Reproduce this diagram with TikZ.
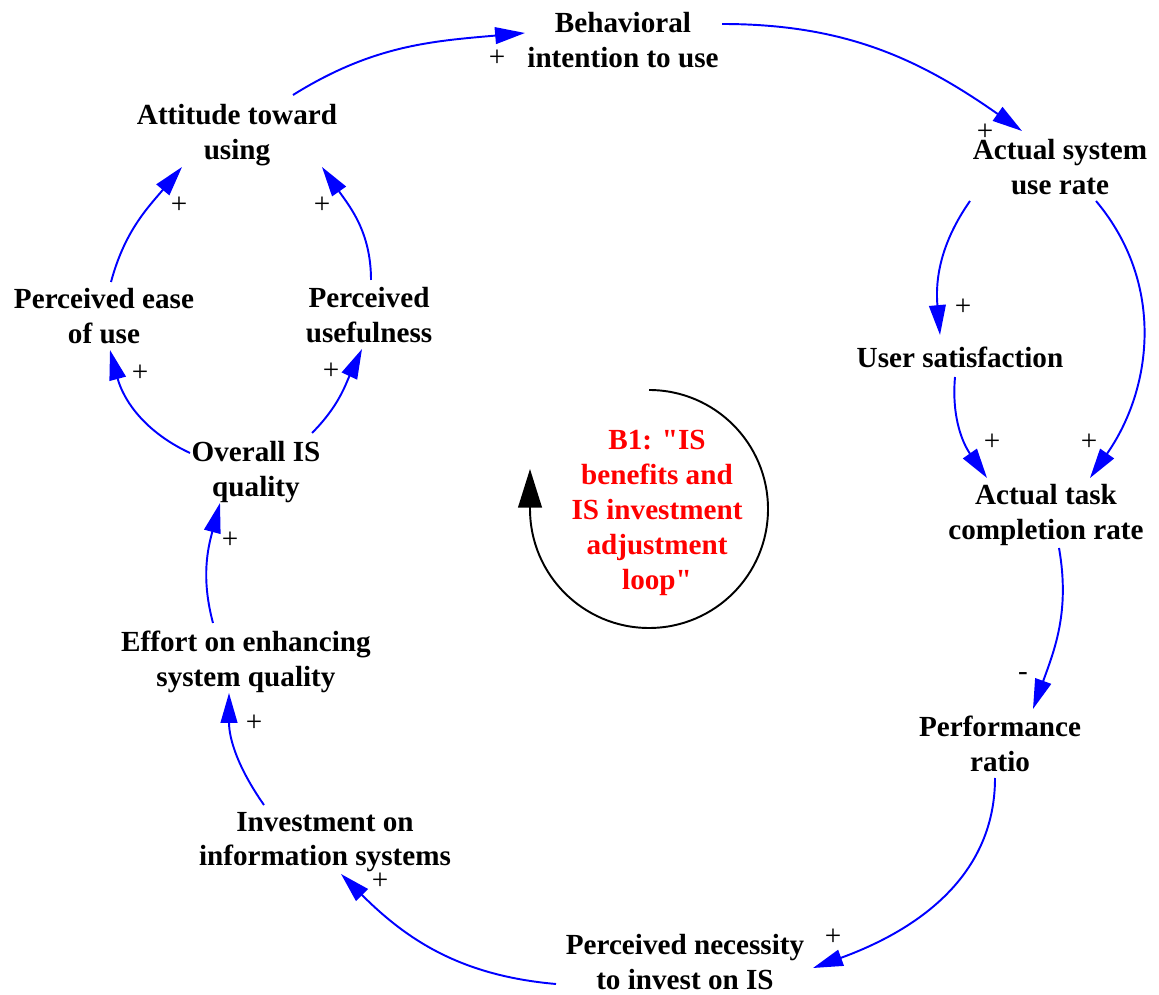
\documentclass[tikz,border=0pt]{standalone}
\usepackage{fontspec}
\setmainfont{Liberation Serif}[Ligatures=TeXOff]
\usetikzlibrary{arrows.meta,calc}

\begin{document}
\begin{tikzpicture}[x=0.02cm,y=0.02cm,
  var/.style={align=center,font=\bfseries\fontsize{16.6}{19.8}\selectfont,inner sep=1pt},
  pol/.style={font=\fontsize{16.6}{19.8}\selectfont,inner sep=0pt},
  arr/.style={-{Triangle[length=17pt,width=9.5pt]},blue,line width=1.1pt},
  looparr/.style={-{Triangle[length=22pt,width=13.5pt]},line width=1.1pt}]
  \useasboundingbox (0,0) rectangle (1159,994);
  % variables
  \node[var] (beh)   at (623,954)  {Behavioral\\intention to use};
  \node[var] (act)   at (1060,827) {Actual system\\use rate};
  \node[var] (usr)   at (960,637)  {User satisfaction};
  \node[var] (task)  at (1046,479) {Actual task\\completion rate};
  \node[var] (perf)  at (1000,250) {Performance\\ratio};
  \node[var] (nec)   at (685,32)   {Perceived necessity\\to invest on IS};
  \node[var] (inv)   at (325,152)  {Investment on\\information systems};
  \node[var] (eff)   at (246,332)  {Effort on enhancing\\system quality};
  \node[var] (ovr)   at (256,522)  {Overall IS\\quality};
  \node[var] (pease) at (104,678)  {Perceived ease\\of use};
  \node[var] (puse)  at (369,679)  {Perceived\\usefulness};
  \node[var] (att)   at (237,859)  {Attitude toward\\using};
  % loop
  \node[var,text=red] (b1) at (657,481) {B1: "IS\\benefits and\\IS investment\\adjustment\\loop"};
  \coordinate (loopc) at (649,485);
  \draw[looparr] ($(loopc)+(0,119)$) arc[start angle=90,end angle=-180,radius=119] -- ++(0,40);
  % links
  \draw[arr] ($(att)+(56,40)$)     to[out=32,in=185]   ($(beh)+(-98,7)$);
  \draw[arr] ($(beh)+(99,16)$)     to[out=0,in=145]    ($(act)+(-38,36)$);
  \draw[arr] ($(act)+(-90,-34)$)   to[out=-125,in=95]  ($(usr)+(-20,22)$);
  \draw[arr] ($(act)+(36,-34)$)    to[out=-50,in=55]   ($(task)+(44,37)$);
  \draw[arr] ($(usr)+(-5,-20)$)    to[out=-95,in=125]  ($(task)+(-59,37)$);
  \draw[arr] ($(task)+(13,-33)$)   to[out=-80,in=70]   ($(perf)+(33,35)$);
  \draw[arr] ($(perf)+(-5,-34)$)   to[out=-90,in=20]   ($(nec)+(128,-6)$);
  \draw[arr] ($(nec)+(-129,-22)$)  to[out=175,in=-45]  ($(inv)+(16,-32)$);
  \draw[arr] ($(inv)+(-61,37)$)    to[out=125,in=-90]  ($(eff)+(-17,-31)$);
  \draw[arr] ($(eff)+(-33,39)$)    to[out=105,in=-105] ($(ovr)+(-36,-31)$);
  \draw[arr] ($(ovr)+(-66,19)$)    to[out=155,in=-75]  ($(pease)+(6,-34)$);
  \draw[arr] ($(ovr)+(56,39)$)     to[out=45,in=-115]  ($(puse)+(-7,-34)$);
  \draw[arr] ($(pease)+(7,34)$)    to[out=75,in=-130]  ($(att)+(-55,-32)$);
  \draw[arr] ($(puse)+(2,35)$)     to[out=90,in=-55]   ($(att)+(85,-32)$);
  % polarities
  \node[pol] (s1)  at (497,936)  {+};
  \node[pol] (s2)  at (985,862)  {+};
  \node[pol] (s3)  at (963,687)  {+};
  \node[pol] (s4)  at (1089,552) {+};
  \node[pol] (s5)  at (992,552)  {+};
  \node[pol] (s6)  at (1023,317) {-};
  \node[pol] (s7)  at (833,57)   {+};
  \node[pol] (s8)  at (380,113)  {+};
  \node[pol] (s9)  at (254,271)  {+};
  \node[pol] (s10) at (230,454)  {+};
  \node[pol] (s11) at (140,621)  {+};
  \node[pol] (s12) at (331,623)  {+};
  \node[pol] (s13) at (179,789)  {+};
  \node[pol] (s14) at (322,789)  {+};
\end{tikzpicture}
\end{document}
